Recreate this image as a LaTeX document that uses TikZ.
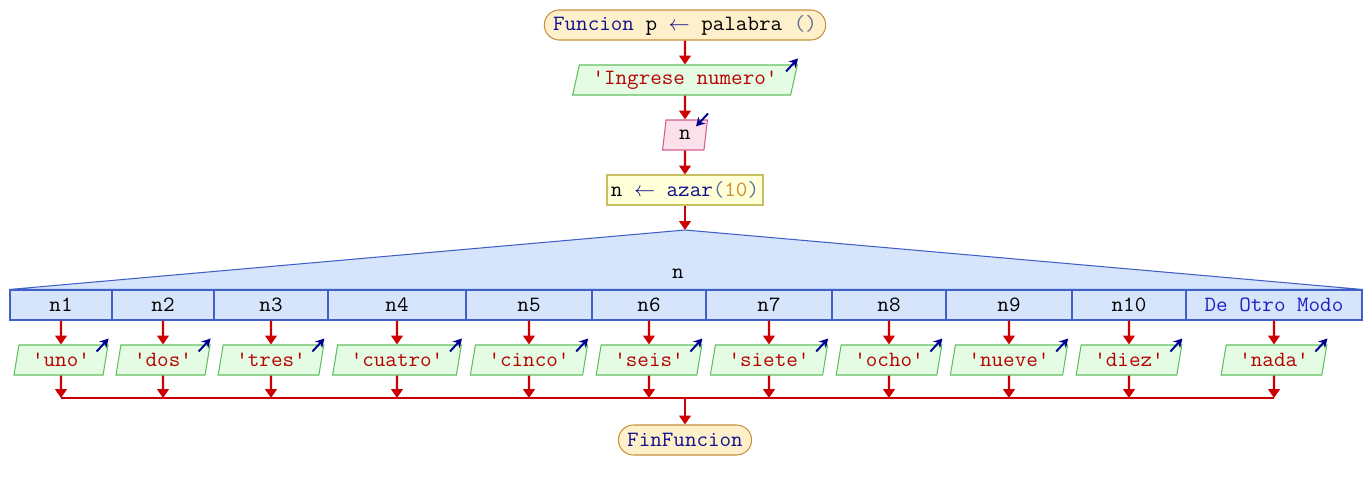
\documentclass[tikz,border=0pt]{standalone}
\usepackage{fontspec}
\setmonofont{Latin Modern Mono}[FakeStretch=1.03]
\usepackage{xcolor}
\usetikzlibrary{shapes.geometric,arrows.meta,positioning}

\definecolor{flecha}{HTML}{CC0000}
\definecolor{rojotxt}{HTML}{B80000}
\definecolor{azulkw}{HTML}{10108C}
\definecolor{azulotro}{HTML}{2020C0}
\definecolor{azulosc}{HTML}{000090}
\definecolor{grisp}{HTML}{607090}
\definecolor{numero}{HTML}{C89030}
\definecolor{termfondo}{HTML}{FFF0CC}
\definecolor{termborde}{HTML}{C8903C}
\definecolor{verdefondo}{HTML}{E4FCE4}
\definecolor{verdeborde}{HTML}{60C060}
\definecolor{rosafondo}{HTML}{FCE0EC}
\definecolor{rosaborde}{HTML}{D06090}
\definecolor{amarfondo}{HTML}{FFFFD8}
\definecolor{amarborde}{HTML}{C8C060}
\definecolor{azulfondo}{HTML}{D6E4FC}
\definecolor{azulborde}{HTML}{4060C8}

\tikzset{
  flujo/.style={draw=flecha, line width=1.3pt, -{Triangle[length=5pt,width=6.5pt]}},
  linea/.style={draw=flecha, line width=1.3pt},
  dirsal/.style={draw=azulosc, line width=1.1pt, -{Stealth[length=5pt,width=5.5pt]}},
  terminal/.style={draw=termborde, fill=termfondo, line width=0.6pt, rounded corners=8.5pt,
    minimum height=0.6cm, inner xsep=5pt, inner ysep=0pt},
  salida/.style={trapezium, trapezium left angle=70, trapezium right angle=110, trapezium stretches=true,
    draw=verdeborde, fill=verdefondo, line width=0.6pt, minimum height=0.6cm,
    inner xsep=7.5pt, inner ysep=0pt, text=rojotxt},
  entrada/.style={trapezium, trapezium left angle=70, trapezium right angle=110, trapezium stretches=true,
    draw=rosaborde, fill=rosafondo, line width=0.6pt, minimum height=0.6cm,
    inner xsep=7.5pt, inner ysep=0pt},
  asignar/.style={draw=amarborde, fill=amarfondo, line width=0.6pt, minimum height=0.6cm,
    minimum width=3.12cm, inner sep=0pt},
  celda/.style={draw=azulborde, fill=azulfondo, line width=0.6pt, minimum height=0.6cm, inner sep=0pt}
}

\begin{document}
\begin{tikzpicture}[x=0.02cm, y=-0.02cm, font=\ttfamily\fontsize{12.4}{14}\selectfont]
    \useasboundingbox (0,0) rectangle (1370,490);

    % Inicio
    \node[terminal] (A) at (685,25) {\textcolor{azulkw}{Funcion} p \textcolor{azulkw}{$\leftarrow$} palabra \textcolor{grisp}{()}};
    \node[salida] (B) at (685,80) {'Ingrese numero'};
    \node[entrada] (C) at (685,135) {n};
    \node[asignar] (D) at (685,190) {n \textcolor{azulkw}{$\leftarrow$ azar}\textcolor{grisp}{(}\textcolor{numero}{10}\textcolor{grisp}{)}};
    \coordinate (P) at (685,230);

    \draw[flujo] (A) -- (B);
    \draw[flujo] (B) -- (C);
    \draw[flujo] (C) -- (D);
    \draw[flujo] (D) -- (P);

    % Flechas de lectura / escritura
    \draw[dirsal] ([shift={(-12,7)}]B.top right corner) -- ([shift={(0,-6)}]B.top right corner);
    \draw[dirsal] ([shift={(0,-6)}]C.top right corner) -- ([shift={(-12,7)}]C.top right corner);

    % Segun
    \node[celda, minimum width=2.04cm] (C1) at (61,305) {n1};
    \node[celda, minimum width=2.04cm] (C2) at (163,305) {n2};
    \node[celda, minimum width=2.28cm] (C3) at (271,305) {n3};
    \node[celda, minimum width=2.76cm] (C4) at (397,305) {n4};
    \node[celda, minimum width=2.52cm] (C5) at (529,305) {n5};
    \node[celda, minimum width=2.28cm] (C6) at (649,305) {n6};
    \node[celda, minimum width=2.52cm] (C7) at (769,305) {n7};
    \node[celda, minimum width=2.28cm] (C8) at (889,305) {n8};
    \node[celda, minimum width=2.52cm] (C9) at (1009,305) {n9};
    \node[celda, minimum width=2.28cm] (C10) at (1129,305) {n10};
    \node[celda, minimum width=3.52cm, text=azulotro] (C11) at (1274,305) {De Otro Modo};
    \filldraw[draw=azulborde, fill=azulfondo, line width=0.6pt] (P) -- (C1.north west) -- (C11.north east) -- cycle;
    \node (N) at (678,274) {n};

    % Salidas
    \node[salida] (S1) at (61,360) {'uno'};
    \node[salida] (S2) at (163,360) {'dos'};
    \node[salida] (S3) at (271,360) {'tres'};
    \node[salida] (S4) at (397,360) {'cuatro'};
    \node[salida] (S5) at (529,360) {'cinco'};
    \node[salida] (S6) at (649,360) {'seis'};
    \node[salida] (S7) at (769,360) {'siete'};
    \node[salida] (S8) at (889,360) {'ocho'};
    \node[salida] (S9) at (1009,360) {'nueve'};
    \node[salida] (S10) at (1129,360) {'diez'};
    \node[salida] (S11) at (1274,360) {'nada'};

    \foreach \i/\x in {1/61,2/163,3/271,4/397,5/529,6/649,7/769,8/889,9/1009,10/1129,11/1274} {
        \draw[flujo] (C\i) -- (S\i);
        \draw[dirsal] ([shift={(-12,7)}]S\i.top right corner) -- ([shift={(0,-6)}]S\i.top right corner);
        \coordinate (J\i) at (\x,398);
        \draw[flujo] (S\i.south) -- (J\i);
    }

    % Union
    \draw[linea] (J1) -- (J11);
    \coordinate (J) at (685,398);
    \node[terminal, text=azulkw] (F) at (685,440) {FinFuncion};
    \draw[flujo] (J) -- (F);

\end{tikzpicture}
\end{document}
